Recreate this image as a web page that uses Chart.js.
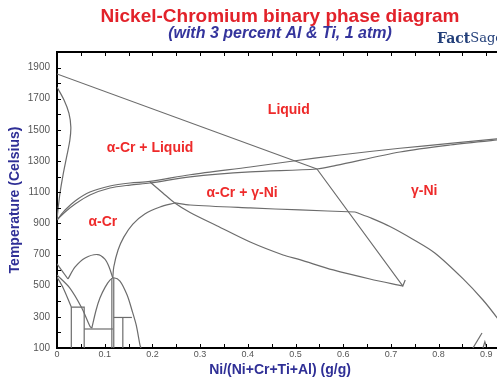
<!DOCTYPE html>
<html>
<head>
<meta charset="utf-8">
<script src="https://cdn.jsdelivr.net/npm/chart.js@4"></script>
<style>
html, body { margin: 0; padding: 0; overflow: hidden; background: #fff; }
#wrap { width: 560px; height: 384px; }
</style>
</head>
<body>
<div id="wrap"><canvas id="phaseChart"></canvas></div>
<script>
// axis ticks
const xTickValues = [0, 0.05, 0.1, 0.15, 0.2, 0.25, 0.3, 0.35, 0.4, 0.45, 0.5, 0.55, 0.6, 0.65, 0.7, 0.75, 0.8, 0.85, 0.9, 0.95, 1];
const xLabelValues = [0, 0.1, 0.2, 0.3, 0.4, 0.5, 0.6, 0.7, 0.8, 0.9, 1];
const yTickValues = [100, 200, 300, 400, 500, 600, 700, 800, 900, 1000, 1100, 1200, 1300, 1400, 1500, 1600, 1700, 1800, 1900, 2000];
const yLabelValues = [100, 300, 500, 700, 900, 1100, 1300, 1500, 1700, 1900];

// phase boundaries as [x (g/g), T (Celsius)]
const liquidusLeft = [[0, 1859], [0.545, 1249]];
const liquidusDrop = [[0.545, 1249], [0.725, 498], [0.730, 536]];
const upperBranch = [[0, 922], [0.017, 986], [0.038, 1044], [0.069, 1101], [0.111, 1140], [0.153, 1159], [0.195, 1169], [0.279, 1212], [0.405, 1262], [0.488, 1297], [0.593, 1339], [0.719, 1382], [0.824, 1413], [0.922, 1442], [0.95, 1450]];
const lowerBranch = [[0, 922], [0.017, 973], [0.038, 1024], [0.069, 1082], [0.111, 1127], [0.153, 1146], [0.195, 1159], [0.279, 1198], [0.405, 1230], [0.545, 1249], [0.585, 1272], [0.719, 1358], [0.824, 1403], [0.922, 1435], [0.95, 1442]];
const noseLeft = [[0, 1775], [0.0147, 1692], [0.025, 1608], [0.029, 1519], [0.027, 1435], [0.021, 1339], [0.0126, 1210], [0.0063, 1095], [0.002, 986], [0, 922]];
const valleyCurve = [[0.195, 1166], [0.222, 1095], [0.247, 1031], [0.279, 970], [0.335, 885], [0.405, 780], [0.474, 697], [0.509, 667], [0.579, 601], [0.656, 543], [0.725, 498]];
const crSolvus = [[0.117, 549], [0.119, 620], [0.128, 729], [0.140, 812], [0.159, 895], [0.184, 960], [0.216, 1005], [0.247, 1031]];
const flatSolvus = [[0.247, 1031], [0.279, 1018], [0.405, 999], [0.509, 986], [0.625, 973]];
const niSolvus = [[0.625, 973], [0.660, 932], [0.698, 880], [0.745, 800], [0.792, 710], [0.851, 545], [0.893, 408], [0.922, 296], [0.94, 215]];
const lowLine = [[0, 640], [0.023, 543]];
const lowArch = [[0.023, 543], [0.038, 620], [0.059, 678], [0.085, 700], [0.100, 672], [0.109, 622], [0.117, 549]];
const vCurve = [[0, 569], [0.027, 485], [0.052, 357], [0.069, 240], [0.073, 228]];
const steepCurve = [[0, 556], [0.013, 485], [0.030, 363]];
const rightArch = [[0.073, 228], [0.082, 344], [0.090, 421], [0.101, 491], [0.111, 536], [0.119, 551], [0.132, 530], [0.147, 440], [0.157, 344], [0.166, 248], [0.174, 119], [0.176, 100]];
const stepA = [[0.030, 363], [0.030, 100]];
const stepB = [[0.030, 363], [0.057, 363], [0.057, 100]];
const stepC = [[0.057, 222], [0.117, 222]];
const stepD = [[0.115, 549], [0.115, 100]];
const stepE = [[0.119, 549], [0.119, 100]];
const stepF = [[0.119, 296], [0.157, 296]];
const stepG = [[0.138, 296], [0.138, 100]];
const niEdgeLine = [[0.872, 100], [0.891, 196]];
const niEdgeBump = [[0.893, 100], [0.897, 140], [0.901, 100]];

// region labels [text, x, T]
const regionLabels = [
    ['Liquid', 0.486, 1628],
    ['\u03b1-Cr + Liquid', 0.195, 1384],
    ['\u03b1-Cr + \u03b3-Ni', 0.388, 1095],
    ['\u03b3-Ni', 0.770, 1108],
    ['\u03b1-Cr', 0.096, 909]
];

const curves = [upperBranch, lowerBranch, noseLeft, valleyCurve, crSolvus, flatSolvus, niSolvus, lowArch, vCurve, steepCurve, rightArch];
const straights = [liquidusLeft, liquidusDrop, lowLine, stepA, stepB, stepC, stepD, stepE, stepF, stepG, niEdgeLine, niEdgeBump];

const makeSet = (pts, tension) => ({
    data: pts.map(p => ({ x: p[0], y: p[1] })),
    showLine: true,
    borderColor: '#6c6c6c',
    borderWidth: 1.2,
    pointRadius: 0,
    pointHoverRadius: 0,
    fill: false,
    tension: tension
});

const datasets = curves.map(c => makeSet(c, 0.3)).concat(straights.map(s => makeSet(s, 0)));

const FONT = '"Liberation Sans", Arial, sans-serif';

const decor = {
    id: 'decor',
    afterDraw(chart) {
        const { ctx, chartArea: a } = chart;
        const x = chart.scales.x, y = chart.scales.y;
        ctx.save();

        // top border and inward ticks
        ctx.strokeStyle = '#000';
        ctx.lineWidth = 2;
        ctx.beginPath();
        ctx.moveTo(a.left - 1, a.top);
        ctx.lineTo(a.right, a.top);
        ctx.stroke();
        ctx.lineWidth = 1;
        ctx.beginPath();
        xTickValues.forEach(v => {
            const px = Math.round(x.getPixelForValue(v)) + 0.5;
            ctx.moveTo(px, a.bottom);
            ctx.lineTo(px, a.bottom - 4);
            ctx.moveTo(px, a.top);
            ctx.lineTo(px, a.top + 4);
        });
        yTickValues.forEach(v => {
            const py = Math.round(y.getPixelForValue(v)) + 0.5;
            ctx.moveTo(a.left, py);
            ctx.lineTo(a.left + 4, py);
        });
        ctx.stroke();

        // titles
        ctx.textAlign = 'center';
        ctx.textBaseline = 'middle';
        ctx.fillStyle = '#e2222a';
        ctx.font = 'bold 19px ' + FONT;
        ctx.fillText('Nickel-Chromium binary phase diagram', 280, 17);
        ctx.fillStyle = '#34349c';
        ctx.font = 'italic bold 16px ' + FONT;
        ctx.fillText('(with 3 percent Al & Ti, 1 atm)', 280, 34);

        // logo text
        ctx.textAlign = 'left';
        ctx.fillStyle = '#24407a';
        ctx.font = 'bold 14px "DejaVu Serif", serif';
        ctx.fillText('Fact', 437, 39);
        const w = ctx.measureText('Fact').width;
        ctx.font = '13px "DejaVu Serif", serif';
        ctx.fillText('Sage', 437 + w, 39);

        // x axis title
        ctx.textAlign = 'center';
        ctx.fillStyle = '#2f2f96';
        ctx.font = 'bold 14px ' + FONT;
        ctx.fillText('Ni/(Ni+Cr+Ti+Al) (g/g)', 280, 370);

        // region labels
        ctx.fillStyle = '#ee2a2a';
        ctx.font = 'bold 14px ' + FONT;
        regionLabels.forEach(r => {
            ctx.fillText(r[0], x.getPixelForValue(r[1]), y.getPixelForValue(r[2]));
        });
        ctx.restore();
    }
};

new Chart(document.getElementById('phaseChart'), {
    type: 'scatter',
    data: { datasets: datasets },
    options: {
        responsive: true,
        maintainAspectRatio: false,
        animation: false,
        layout: { padding: { top: 52, right: 26, left: 0, bottom: 0 } },
        plugins: {
            legend: { display: false },
            tooltip: { enabled: false }
        },
        scales: {
            x: {
                type: 'linear',
                min: 0,
                max: 1,
                afterBuildTicks: (scale) => { scale.ticks = xTickValues.map(v => ({ value: v })); },
                afterFit: (scale) => { scale.height = 36; },
                grid: { display: false, drawTicks: false },
                border: { display: true, color: '#000', width: 2 },
                ticks: {
                    autoSkip: false,
                    maxRotation: 0,
                    padding: 1,
                    color: '#555',
                    font: { size: 9, family: FONT },
                    callback: function (value) {
                        const hit = xLabelValues.find(v => Math.abs(v - value) < 1e-6);
                        if (hit === undefined) return '';
                        return hit === 0 ? '0' : hit.toFixed(1);
                    }
                }
            },
            y: {
                type: 'linear',
                min: 100,
                max: 2000,
                afterBuildTicks: (scale) => { scale.ticks = yTickValues.map(v => ({ value: v })); },
                afterFit: (scale) => { scale.width = 57; },
                grid: { display: false, drawTicks: false },
                border: { display: true, color: '#000', width: 2 },
                ticks: {
                    autoSkip: false,
                    padding: 7,
                    color: '#555',
                    font: { size: 10, family: FONT },
                    callback: function (value) {
                        return yLabelValues.includes(value) ? String(value) : '';
                    }
                },
                title: {
                    display: true,
                    text: 'Temperature (Celsius)',
                    color: '#2f2f96',
                    font: { size: 14, weight: 'bold', family: FONT },
                    padding: { top: 7, bottom: 0 }
                }
            }
        }
    },
    plugins: [decor]
});
</script>
</body>
</html>
